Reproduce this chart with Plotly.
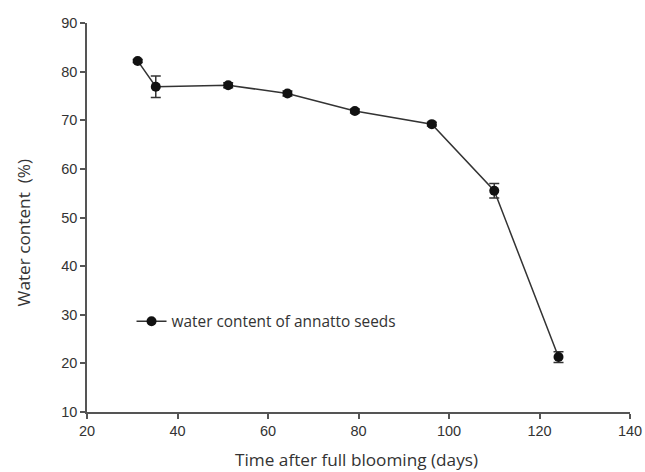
import plotly.graph_objects as go

days = [31.2, 35.2, 51.2, 64.3, 79.2, 96.2, 110.0, 124.2]
water = [82.2, 76.9, 77.2, 75.5, 71.9, 69.2, 55.5, 21.3]
err = [0.3, 2.2, 0.5, 0.5, 0.4, 0.4, 1.5, 1.1]
x_ticks = [20, 40, 60, 80, 100, 120, 140]
y_ticks = [10, 20, 30, 40, 50, 60, 70, 80, 90]

fig = go.Figure()
fig.add_trace(go.Scatter(
    x=days, y=water, mode="lines+markers",
    name="water content of annatto seeds",
    line=dict(color="#333333", width=1.5),
    marker=dict(color="#111111", size=10),
    error_y=dict(type="data", array=err, visible=True, color="#333333",
                 thickness=1.5, width=5),
))

fig.update_layout(
    width=645, height=472,
    margin=dict(l=87, r=15, t=23, b=60),
    paper_bgcolor="white", plot_bgcolor="white",
    font=dict(family="Liberation Sans, Arial", size=14.5, color="#333333"),
    showlegend=True,
    legend=dict(x=0.082, y=0.232, xanchor="left", yanchor="middle",
                bgcolor="rgba(0,0,0,0)",
                font=dict(family="Open Sans", size=15.4, color="#333333")),
    xaxis=dict(range=[20, 140], tickvals=x_ticks, showline=True,
               linecolor="#555555", linewidth=1.5, ticks="outside",
               ticklen=5, tickcolor="#555555", tickwidth=1.5,
               showgrid=False, zeroline=False, automargin=False),
    yaxis=dict(range=[10, 90], tickvals=y_ticks, showline=True,
               linecolor="#555555", linewidth=1.5, ticks="outside",
               ticklen=5, tickcolor="#555555", tickwidth=1.5,
               showgrid=False, zeroline=False, automargin=False),
    annotations=[
        dict(text="Time after full blooming (days)", xref="paper", yref="paper",
             x=0.497, y=0, yshift=-47, xanchor="center", yanchor="middle",
             borderpad=0,
             showarrow=False, font=dict(family="Open Sans", size=17.2, color="#333333")),
        dict(text="Water content  (%)", xref="paper", yref="paper",
             x=0, xshift=-64, y=0.4615, xanchor="center", yanchor="middle",
             textangle=-90, showarrow=False,
             font=dict(family="Open Sans", size=17.2, color="#333333")),
    ],
)

fig.write_html("out.html")
